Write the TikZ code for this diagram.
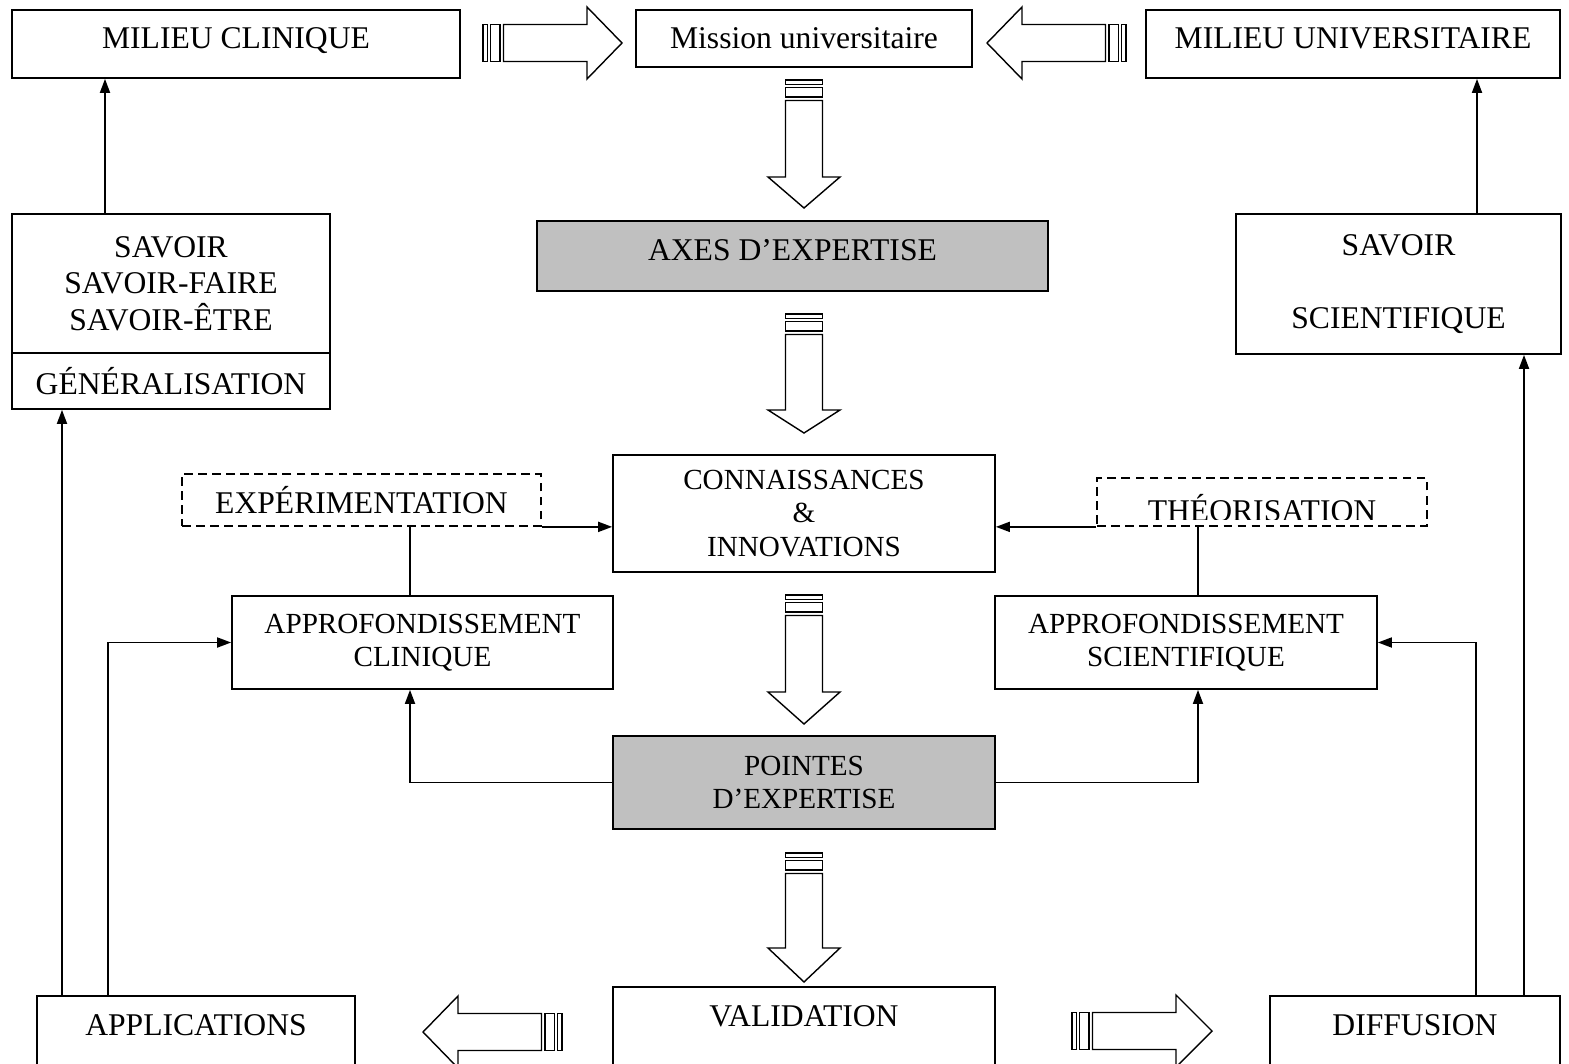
\documentclass[tikz,border=0pt]{standalone}
\usepackage{fontspec}
\setmainfont{Liberation Serif}
\usetikzlibrary{arrows.meta,calc}
\definecolor{boxgray}{RGB}{192,192,192}
\tikzset{
  pics/stripedarrow/.style 2 args={code={
    \draw[line width=0.8pt] (0,-18.5) rectangle (4.5,18.5);
    \draw[line width=0.8pt] (7.5,-18.5) rectangle (17,18.5);
    \draw[line width=0.8pt] (20.5,-18.5) -- ({#1-#2},-18.5) -- ({#1-#2},-36) -- (#1,0)
      -- ({#1-#2},36) -- ({#1-#2},18.5) -- (20.5,18.5) -- cycle;
  }}
}

\begin{document}
\begin{tikzpicture}[
  x=0.02cm, y=-0.02cm, line width=1pt,
  font=\fontsize{18}{20.8}\selectfont, >={Triangle[length=0.28cm,width=0.2cm]},
  box/.style={draw, align=center, inner sep=0pt},
  sbox/.style={box, font=\fontsize{16.6}{19}\selectfont},
  hi/.style={text height=0.42cm, text depth=0.24cm},
  low/.style={box, anchor=north, text height=0.79cm, text depth=2cm},
  dbox/.style={box, dash pattern=on 5pt off 3pt},
  arr/.style={->},
]
\useasboundingbox (0,0) rectangle (1569,1064);
\clip (0,0) rectangle (1569,1064);

\node[box, hi, minimum width=8.96cm, minimum height=1.36cm] (clin) at (236,44) {MILIEU CLINIQUE};
\node[box, minimum width=6.72cm, minimum height=1.14cm] (miss) at (804,38.5) {Mission universitaire};
\node[box, hi, minimum width=8.28cm, minimum height=1.36cm] (univ) at (1353,44) {MILIEU UNIVERSITAIRE};

\node[box, minimum width=6.36cm, minimum height=2.78cm] (savoir) at (171,283.5) {SAVOIR\\SAVOIR-FAIRE\\SAVOIR-ÊTRE};
\node[box, minimum width=6.36cm, minimum height=1.12cm] (gener) at (171,381) {GÉNÉRALISATION};
\node[box, hi, fill=boxgray, minimum width=10.22cm, minimum height=1.40cm] (axes) at (792.5,256) {AXES D’EXPERTISE};
\node[box, minimum width=6.5cm, minimum height=2.8cm] (sci) at (1398.5,284) {SAVOIR\\[20.8pt]SCIENTIFIQUE};

\node[dbox, minimum width=7.18cm, minimum height=1.04cm] (expe) at (361.5,500) {EXPÉRIMENTATION};
\node[sbox, minimum width=7.64cm, minimum height=2.34cm] (conn) at (804,513.5) {CONNAISSANCES\\\&\\INNOVATIONS};
\node[dbox, minimum width=6.6cm, minimum height=0.96cm] (theo) at (1262,502) {};
\begin{scope}
  \clip (1097,478) rectangle (1427,519);
  \node[anchor=base] (theotext) at (1262,521) {THÉORISATION};
\end{scope}

\node[sbox, minimum width=7.62cm, minimum height=1.86cm] (apcl) at (422.5,642.5) {APPROFONDISSEMENT\\CLINIQUE};
\node[sbox, minimum width=7.64cm, minimum height=1.86cm] (apsc) at (1186,642.5) {APPROFONDISSEMENT\\SCIENTIFIQUE};
\node[sbox, fill=boxgray, minimum width=7.64cm, minimum height=1.86cm] (poin) at (804,782.5) {POINTES\\D’EXPERTISE};

\node[low, minimum width=6.36cm] (appl) at (196,995) {APPLICATIONS};
\node[low, minimum width=7.64cm] (vali) at (804,986) {VALIDATION};
\node[low, minimum width=5.8cm] (diff) at (1415,995) {DIFFUSION};

\pic at (483,43) {stripedarrow={139}{35}};
\pic[rotate=180] at (1126,43) {stripedarrow={139}{35}};
\pic[rotate=-90] at (804,80) {stripedarrow={128}{31}};
\pic[rotate=-90] at (804,314) {stripedarrow={119}{23}};
\pic[rotate=-90] at (804,595) {stripedarrow={129}{32}};
\pic[rotate=-90] at (804,853) {stripedarrow={129}{34}};
\pic[rotate=180] at (562,1032) {stripedarrow={139}{35}};
\pic at (1072,1031) {stripedarrow={140}{36}};

\draw[arr] (savoir.north -| 105,0) -- (clin.south -| 105,0);
\draw[arr] (sci.north -| 1477,0) -- (univ.south -| 1477,0);
\draw[arr] (appl.north -| 62,0) -- (gener.south -| 62,0);
\draw[arr] (appl.north -| 108,0) |- (apcl.west);
\draw[arr] (diff.north -| 1524,0) -- (sci.south -| 1524,0);
\draw[arr] (diff.north -| 1476,0) |- (apsc.east);
\draw[arr] (poin.west) -| ([xshift=-0.25cm]apcl.south);
\draw[arr] (poin.east) -| ([xshift=0.24cm]apsc.south);
\draw ([xshift=-0.25cm]apcl.north) -- ([xshift=-0.25cm]apcl.north |- expe.south);
\draw ([xshift=0.24cm]apsc.north) -- ([xshift=0.24cm]apsc.north |- theo.south);
\draw[arr] (expe.south east) -- (conn.west |- expe.south east);
\draw[arr] (theo.south west) -- (conn.east |- theo.south west);
\end{tikzpicture}
\end{document}
